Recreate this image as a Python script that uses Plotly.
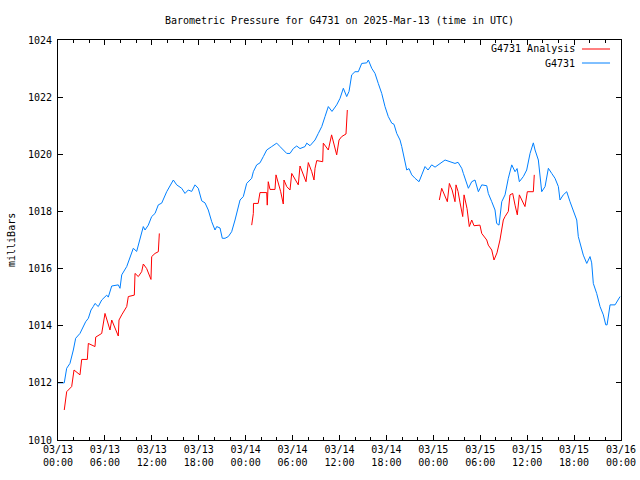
import pandas as pd
import plotly.graph_objects as go

# ---- data (hours after 2025-03-13 00:00 UTC, pressure in mb) ----
station_hours = [0.0, 0.8, 1.11, 1.53, 1.96, 2.26, 2.81, 3.24, 3.54, 3.88, 4.22, 4.51, 4.73, 5.15, 5.59,
                 6.23, 6.43, 6.87, 7.71, 7.93, 8.15, 8.79, 9.21, 9.63, 10.06, 10.49, 10.91, 11.13, 11.55,
                 11.98, 12.41, 12.83, 13.26, 13.9, 14.32, 14.75, 15.18, 15.82, 16.24, 16.66, 17.1, 17.52,
                 17.94, 18.38, 18.8, 19.22, 19.66, 20.08, 20.3, 20.72, 21.01, 21.36, 21.78, 22.21, 22.64,
                 23.28, 23.7, 24.13, 24.77, 24.98, 25.41, 25.83, 26.26, 26.69, 27.33, 27.97, 28.39, 28.81,
                 29.25, 29.67, 30.09, 30.53, 30.95, 31.59, 31.81, 32.23, 32.87, 33.29, 33.73, 34.15, 34.57,
                 35.04, 35.64, 36.07, 36.49, 36.92, 37.22, 37.56, 37.98, 38.41, 38.84, 39.48, 39.69, 40.12,
                 40.54, 40.96, 41.4, 41.82, 42.24, 42.68, 42.97, 43.32, 43.74, 43.96, 44.38, 44.6, 44.89,
                 45.24, 45.66, 46.17, 46.52, 46.94, 47.32, 47.79, 48.22, 48.86, 49.5, 50.13, 50.77, 51.16,
                 51.63, 51.84, 52.27, 52.48, 52.91, 53.33, 53.76, 54.19, 54.83, 55.03, 55.47, 55.89, 56.1,
                 56.4, 56.75, 57.17, 57.59, 58.03, 58.45, 58.71, 59.0, 59.51, 59.94, 60.37, 60.79, 61.01,
                 61.43, 61.86, 62.29, 62.71, 63.14, 63.56, 63.99, 64.2, 64.62, 65.06, 65.48, 65.9, 66.34,
                 66.54, 66.98, 67.18, 67.62, 68.04, 68.25, 68.46, 68.89, 69.32, 69.74, 70.05, 70.22, 70.6,
                 71.24, 71.88]
station_mb = [1012.0, 1012.0, 1012.51, 1012.68, 1013.15, 1013.56, 1013.73, 1013.97, 1014.14, 1014.26,
              1014.55, 1014.67, 1014.78, 1014.67, 1014.9, 1015.07, 1015.0, 1015.39, 1015.43, 1015.31,
              1015.78, 1016.07, 1016.36, 1016.71, 1016.6, 1017.0, 1017.47, 1017.35, 1017.52, 1017.82,
              1017.93, 1018.23, 1018.29, 1018.69, 1018.87, 1019.1, 1018.93, 1018.81, 1018.63, 1018.75,
              1018.7, 1018.93, 1018.81, 1018.37, 1018.3, 1018.05, 1017.64, 1017.35, 1017.47, 1017.42,
              1017.06, 1017.06, 1017.12, 1017.29, 1017.7, 1018.4, 1018.52, 1018.98, 1019.16, 1019.39,
              1019.63, 1019.7, 1019.92, 1020.15, 1020.27, 1020.39, 1020.27, 1020.15, 1020.03, 1020.03,
              1020.2, 1020.29, 1020.2, 1020.27, 1020.39, 1020.3, 1020.5, 1020.73, 1020.97, 1021.32,
              1021.67, 1021.5, 1021.73, 1021.96, 1022.31, 1022.02, 1022.2, 1022.78, 1022.89, 1022.89,
              1023.18, 1023.2, 1023.3, 1023.01, 1022.83, 1022.48, 1022.13, 1021.67, 1021.32, 1021.09,
              1021.05, 1020.73, 1020.5, 1020.27, 1019.8, 1019.45, 1019.5, 1019.28, 1019.16, 1019.04,
              1019.28, 1019.57, 1019.45, 1019.63, 1019.55, 1019.68, 1019.8, 1019.74, 1019.68, 1019.72,
              1019.51, 1019.33, 1018.98, 1018.81, 1019.04, 1019.1, 1018.69, 1018.93, 1018.9, 1018.63,
              1018.34, 1018.05, 1017.58, 1017.52, 1018.34, 1018.58, 1019.16, 1019.63, 1019.39, 1019.5,
              1019.04, 1019.22, 1019.45, 1020.03, 1020.4, 1020.15, 1019.8, 1018.69, 1018.87, 1019.51,
              1019.33, 1019.16, 1018.87, 1018.4, 1018.58, 1018.69, 1018.34, 1018.05, 1017.7, 1017.12,
              1016.65, 1016.47, 1016.18, 1016.42, 1016.2, 1015.48, 1015.13, 1014.67, 1014.38, 1014.03,
              1014.03, 1014.73, 1014.73, 1015.02]

analysis1_hours = [0.8, 1.11, 1.75, 2.05, 2.81, 3.03, 3.75, 3.88, 4.73, 4.82, 5.59, 6.01, 6.65, 6.87,
                   7.71, 7.8, 8.15, 8.79, 8.99, 9.76, 9.85, 10.27, 10.7, 10.91, 11.34, 11.89, 11.98,
                   12.41, 12.83, 12.96]
analysis1_mb = [1011.05, 1011.69, 1011.87, 1012.45, 1012.28, 1012.82, 1012.82, 1013.38, 1013.27, 1013.6,
                1013.73, 1014.43, 1013.85, 1014.2, 1013.64, 1014.2, 1014.38, 1014.67, 1015.02, 1015.07,
                1015.83, 1015.72, 1015.89, 1016.16, 1016.0, 1015.62, 1016.42, 1016.53, 1016.59, 1017.23]
analysis2_hours = [24.77, 24.98, 25.0, 25.6, 25.83, 26.69, 26.76, 26.89, 27.11, 27.75, 27.88, 28.48,
                   28.81, 28.9, 29.25, 29.67, 29.89, 30.73, 30.95, 31.72, 32.01, 32.45, 32.74, 32.87,
                   33.09, 33.85, 33.93, 34.57, 34.99, 35.64, 35.94, 36.28, 36.83, 37.0]
analysis2_mb = [1017.52, 1017.93, 1018.28, 1018.28, 1018.66, 1018.66, 1018.22, 1019.04, 1018.77, 1018.77,
                1019.28, 1018.69, 1018.26, 1019.1, 1018.87, 1018.75, 1019.33, 1018.93, 1019.59, 1019.04,
                1019.71, 1019.39, 1019.1, 1019.51, 1019.78, 1019.74, 1020.39, 1020.15, 1020.68, 1019.98,
                1020.5, 1020.62, 1020.71, 1021.55]
analysis3_hours = [48.77, 49.07, 49.79, 50.05, 50.4, 50.77, 50.9, 51.16, 51.42, 51.76, 51.93, 52.31,
                   52.6, 52.91, 53.2, 53.96, 54.19, 54.83, 55.03, 55.47, 55.76, 56.14, 56.52, 56.95,
                   57.17, 57.59, 57.8, 58.15, 58.45, 58.74, 59.0, 59.72, 60.02, 60.79, 60.91]
analysis3_mb = [1018.4, 1018.81, 1018.34, 1018.98, 1018.75, 1018.34, 1018.93, 1018.7, 1018.3, 1017.82,
                1018.58, 1018.1, 1017.47, 1017.7, 1017.5, 1017.52, 1017.23, 1017.0, 1016.82, 1016.65,
                1016.3, 1016.55, 1017.0, 1017.7, 1017.82, 1018.0, 1018.58, 1018.63, 1018.22, 1017.88,
                1018.58, 1018.17, 1018.69, 1018.69, 1019.28]

y_ticks = [1010, 1012, 1014, 1016, 1018, 1020, 1022, 1024]

start = pd.Timestamp("2025-03-13 00:00")
end = pd.Timestamp("2025-03-16 00:00")


def to_time(hours):
    return [start + pd.Timedelta(hours=h) for h in hours]


a_x = to_time(analysis1_hours) + [None] + to_time(analysis2_hours) + [None] + to_time(analysis3_hours)
a_y = analysis1_mb + [None] + analysis2_mb + [None] + analysis3_mb

RED = "#ff0000"
BLUE = "#0080ff"
FONT = "DejaVu Sans Mono"

fig = go.Figure()
fig.add_trace(go.Scatter(x=to_time(station_hours), y=station_mb, mode="lines",
                         line=dict(color=BLUE, width=1), name="G4731", showlegend=False))
fig.add_trace(go.Scatter(x=a_x, y=a_y, mode="lines", connectgaps=False,
                         line=dict(color=RED, width=1), name="G4731 Analysis", showlegend=False))

# legend drawn gnuplot-style (text right-aligned, sample on the right)
legend_items = [("G4731 Analysis", RED, 0.9775), ("G4731", BLUE, 0.9425)]
for label, color, yy in legend_items:
    fig.add_annotation(x=0.921, y=yy, xref="paper", yref="paper", text=label, showarrow=False,
                       xanchor="right", yanchor="middle", font=dict(family=FONT, size=10, color="black"))
    fig.add_shape(type="line", xref="paper", yref="paper", x0=0.9307, x1=0.9805, y0=yy, y1=yy,
                  line=dict(color=color, width=1))

fig.add_annotation(x=-0.0835, y=0.5, xref="paper", yref="paper", text="milliBars", textangle=-90,
                   showarrow=False, xanchor="center", yanchor="middle",
                   font=dict(family=FONT, size=10, color="black"))

fig.update_layout(
    width=640, height=480,
    margin=dict(l=58, r=19, t=40, b=40, autoexpand=False),
    paper_bgcolor="white", plot_bgcolor="white",
    font=dict(family=FONT, size=10, color="black"),
    title=dict(text="Barometric Pressure for G4731 on 2025-Mar-13 (time in UTC)",
               xref="paper", x=0.5, xanchor="center", y=1 - 20 / 480, yanchor="middle",
               font=dict(family=FONT, size=10, color="black")),
)
fig.update_xaxes(range=[start, end], type="date", dtick=6 * 3600 * 1000, tick0=start,
                 tickformat="%m/%d<br>%H:%M", ticks="inside", ticklen=5, tickcolor="black",
                 minor=dict(dtick=2 * 3600 * 1000, ticks="inside", ticklen=3, tickcolor="black"),
                 showline=True, linecolor="black", linewidth=1, mirror="allticks",
                 showgrid=False, zeroline=False, automargin=False)
fig.update_yaxes(range=[1010, 1024], tickvals=y_ticks, ticks="inside", ticklen=5, tickcolor="black",
                 showline=True, linecolor="black", linewidth=1, mirror="allticks",
                 showgrid=False, zeroline=False, automargin=False, ticklabelstandoff=3)

fig.write_html("out.html", config={"displayModeBar": False},
               post_script="document.body.style.margin='0';document.body.style.padding='0';")
